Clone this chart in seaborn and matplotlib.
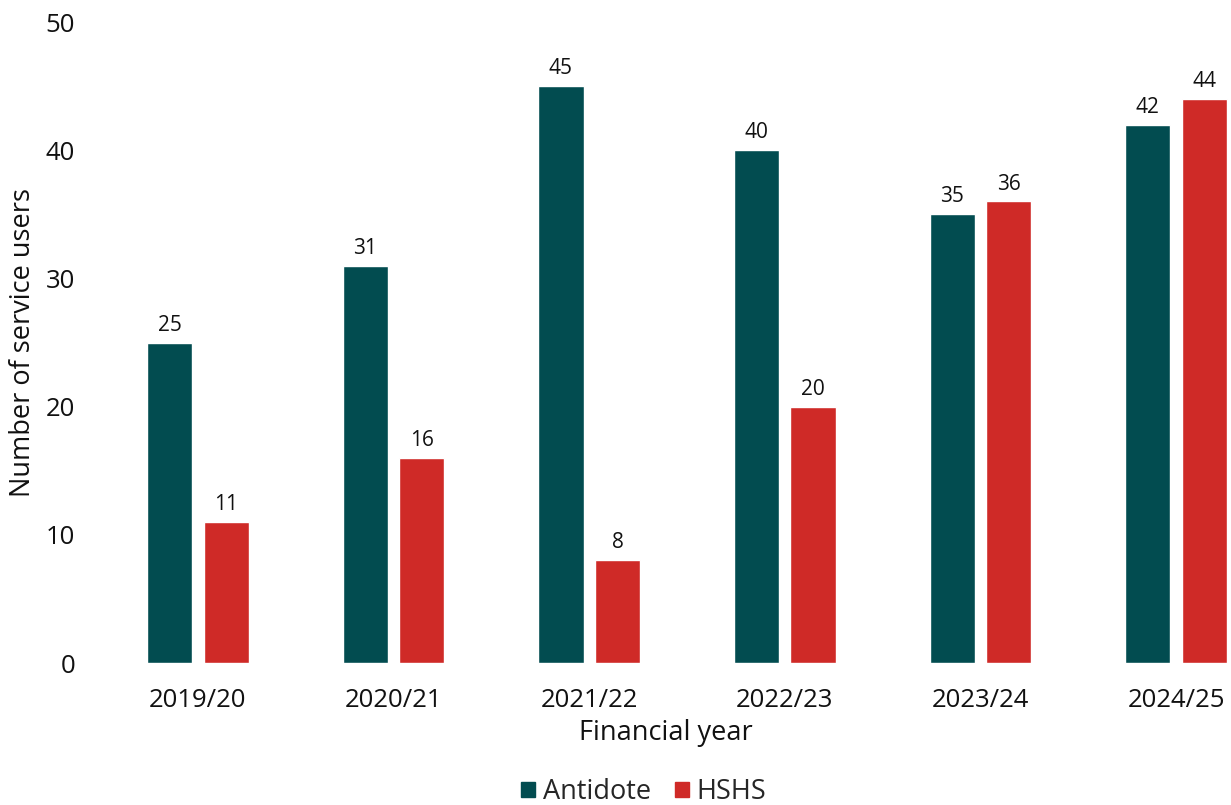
import matplotlib
matplotlib.use("Agg")
import matplotlib.pyplot as plt
import seaborn as sns
import pandas as pd
from matplotlib.patches import Patch

years = ["2019/20", "2020/21", "2021/22", "2022/23", "2023/24", "2024/25"]
antidote = [25, 31, 45, 40, 35, 42]
hshs = [11, 16, 8, 20, 36, 44]
series_names = ["Antidote", "HSHS"]
colors = {"Antidote": "#024C50", "HSHS": "#CF2A27"}

df = pd.DataFrame({
    "Financial year": years * 2,
    "value": antidote + hshs,
    "series": [series_names[0]] * len(years) + [series_names[1]] * len(years),
})

sns.set_theme(style="white")
plt.rcParams['font.family'] = ['Open Sans', 'DejaVu Sans']

fig = plt.figure(figsize=(12.31, 8.05), dpi=100)
W, H = 1231, 805
ax = fig.add_axes([100 / W, (H - 663) / H, (W - 100) / W, (663 - 22) / H])

sns.barplot(data=df, x="Financial year", y="value", hue="series",
            palette=colors, width=0.578, gap=0.2, ax=ax, legend=False,
            saturation=1)

for cont in ax.containers:
    ax.bar_label(cont, fmt="%d", padding=5, fontsize=15, color="#111111")

ax.set_ylim(0, 50)
ax.set_xlim(-0.501, 5.281)
ax.set_yticks(range(0, 51, 10))
for s in ax.spines.values():
    s.set_visible(False)
ax.tick_params(axis="both", length=0, labelsize=18.5, colors="#111111")
ax.tick_params(axis="y", pad=18)
ax.tick_params(axis="x", pad=18)
ax.set_xlabel("Financial year", fontsize=19.5, color="#111111", labelpad=4)
ax.set_ylabel("Number of service users", fontsize=19.5, color="#111111", labelpad=6)

handles = [Patch(color=colors[n], label=n) for n in series_names]
fig.legend(handles=handles, loc="center", bbox_to_anchor=(0.523, 1 - 792 / H),
           ncol=2, frameon=False, fontsize=19.5, handlelength=0.5, handleheight=0.5,
           handletextpad=0.3, columnspacing=0.9, borderpad=0)

fig.savefig("out.png", dpi=100)
